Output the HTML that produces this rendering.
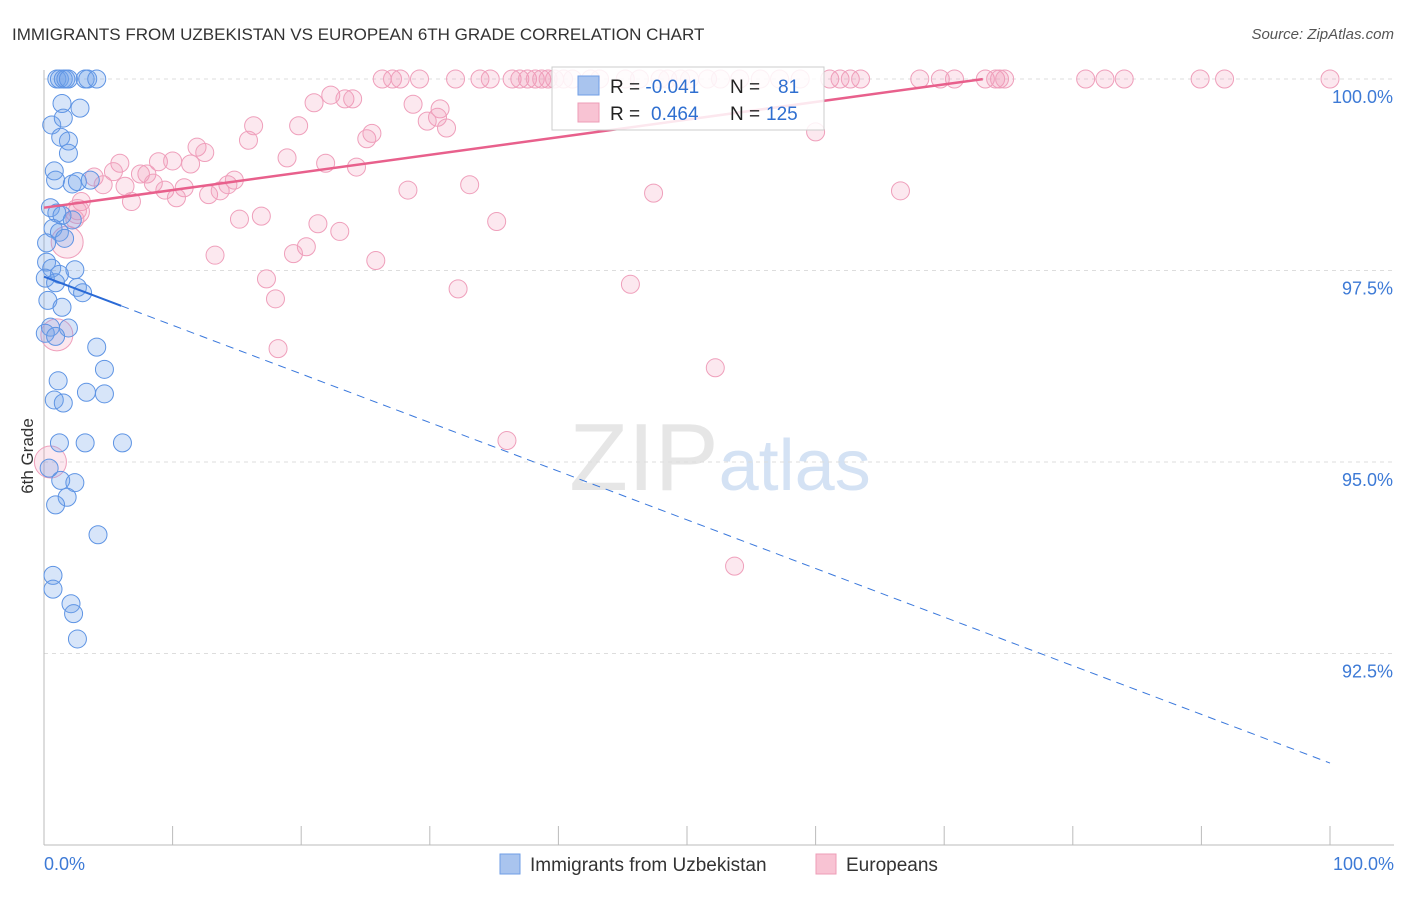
<!DOCTYPE html>
<html><head><meta charset="utf-8"><style>
body{margin:0;background:#fff;font-family:"Liberation Sans",sans-serif;}
svg text{font-family:"Liberation Sans",sans-serif;}
</style></head><body>
<svg id="chart" width="1406" height="892" xmlns="http://www.w3.org/2000/svg">
<text x="12" y="40" font-size="17" fill="#333">IMMIGRANTS FROM UZBEKISTAN VS EUROPEAN 6TH GRADE CORRELATION CHART</text>
<text x="1394" y="39" font-size="15" fill="#555" text-anchor="end" font-style="italic">Source: ZipAtlas.com</text>
<text x="720" y="490" font-size="96" text-anchor="middle" fill="#e6e6e6" font-family="Liberation Serif">ZIP<tspan fill="#d4e2f4" font-family="Liberation Sans" font-size="72">atlas</tspan></text>
<text transform="translate(33,456) rotate(-90)" font-size="17" fill="#333" text-anchor="middle">6th Grade</text>
<g id="grid"></g><g id="axes"></g><g id="marks"></g>
<g>
<rect x="552" y="67" width="272" height="63" fill="#fff" fill-opacity="0.85" stroke="#ccc"/>
<rect x="578" y="76" width="21" height="19" fill="#a9c4ee" stroke="#6f9ee6"/>
<rect x="578" y="103" width="21" height="19" fill="#f8c3d3" stroke="#ee9cb7"/>
<text x="610" y="93" font-size="19" fill="#222">R = <tspan fill="#2f6fd0">-0.041</tspan><tspan x="730">N =</tspan><tspan x="778" fill="#2f6fd0">81</tspan></text>
<text x="610" y="120" font-size="19" fill="#222">R = <tspan x="651" fill="#2f6fd0">0.464</tspan><tspan x="730">N =</tspan><tspan x="766" fill="#2f6fd0">125</tspan></text>
</g>
<g>
<rect x="500" y="854" width="20" height="20" fill="#a9c4ee" stroke="#6f9ee6"/>
<text x="530" y="871" font-size="19" fill="#333">Immigrants from Uzbekistan</text>
<rect x="816" y="854" width="20" height="20" fill="#f8c3d3" stroke="#ee9cb7"/>
<text x="846" y="871" font-size="19" fill="#333">Europeans</text>
</g>
</svg>
<script>
const yTicks=[100,97.5,95,92.5];
const yTickLabels=["100.0%","97.5%","95.0%","92.5%"];
const xTickLabels=["0.0%","100.0%"];
const blueX=[1.0,1.2,1.5,1.7,1.9,3.2,3.4,4.1,1.4,0.6,2.8,1.5,1.3,1.9,1.9,0.8,0.9,2.2,2.6,3.6,0.5,1.0,1.4,2.2,0.7,1.2,1.6,0.2,0.2,0.6,2.4,1.2,0.1,0.9,2.6,3.0,0.3,1.4,0.5,1.9,0.1,0.9,4.1,4.7,1.1,0.8,1.5,3.3,4.7,1.2,3.2,6.1,0.4,1.3,2.4,1.8,0.9,4.2,0.7,0.7,2.1,2.3,2.6];
const blueY=[100,100,100,100,100,100,100,100,99.68,99.40,99.62,99.49,99.24,99.19,99.03,98.80,98.68,98.63,98.66,98.68,98.32,98.25,98.22,98.16,98.05,98.0,97.92,97.86,97.61,97.53,97.51,97.45,97.40,97.34,97.28,97.21,97.11,97.02,96.76,96.75,96.68,96.64,96.50,96.21,96.06,95.81,95.77,95.91,95.89,95.25,95.25,95.25,94.92,94.76,94.73,94.54,94.44,94.05,93.52,93.34,93.15,93.02,92.69];
const pinkX=[26.3,27.1,27.7,29.2,32.0,33.9,34.7,36.4,37.0,37.6,38.2,38.7,39.2,39.7,40.4,41.1,42.5,43.2,45.2,46.3,47.9,48.5,49.5,50.2,51.6,52.6,54.1,55.7,57.2,58.8,61.1,61.9,62.7,63.5,68.1,69.7,70.8,73.2,74.0,74.3,74.7,81.0,82.5,84.0,89.9,91.8,100,
22.3,21.0,23.4,24.0,28.7,30.8,30.6,29.8,31.3,19.8,16.3,25.1,25.5,15.9,11.9,12.5,5.9,8.9,10.0,11.4,18.9,21.9,24.3,7.5,8.0,3.9,4.6,5.4,6.3,8.5,9.4,10.9,10.3,12.8,13.7,14.3,14.8,6.8,2.9,2.6,2.4,15.2,16.9,21.3,23.0,20.4,19.4,13.3,25.8,28.3,33.1,35.2,47.4,66.6,60.0,17.3,18.0,32.2,45.6,18.2,52.2,36.0,53.7,0.5,1.0,1.8,2.6];
const pinkY=[100,100,100,100,100,100,100,100,100,100,100,100,100,100,100,100,100,100,100,100,100,100,100,100,100,100,100,100,100,100,100,100,100,100,100,100,100,100,100,100,100,100,100,100,100,100,100,
99.79,99.69,99.74,99.74,99.67,99.61,99.50,99.45,99.36,99.39,99.39,99.22,99.29,99.20,99.11,99.04,98.90,98.92,98.93,98.89,98.97,98.90,98.85,98.76,98.76,98.72,98.62,98.79,98.60,98.64,98.55,98.58,98.45,98.49,98.54,98.62,98.68,98.40,98.40,98.28,98.17,98.17,98.21,98.11,98.01,97.81,97.72,97.70,97.63,98.55,98.62,98.14,98.51,98.54,99.31,97.39,97.13,97.26,97.32,96.48,96.23,95.28,93.64,95.00,96.66,97.87,98.27];
const pinkSize=new Array(pinkX.length).fill(9);pinkSize[pinkSize.length-4]=16;pinkSize[pinkSize.length-3]=16;pinkSize[pinkSize.length-2]=16;pinkSize[pinkSize.length-1]=12;
const blueTrend=[97.42,91.07];
const pinkTrend=[98.32,100.62];
const NS="http://www.w3.org/2000/svg";
const X=v=>44+v*12.86;
const Y=v=>79+(100-v)/2.5*191.5;
function mk(tag,attrs,parent){const e=document.createElementNS(NS,tag);for(const k in attrs)e.setAttribute(k,attrs[k]);parent.appendChild(e);return e;}
const grid=document.getElementById('grid'),axes=document.getElementById('axes'),marks=document.getElementById('marks');
yTicks.forEach((t,i)=>{
 const l=mk('line',{x1:44,x2:1394,y1:Y(t),y2:Y(t),stroke:'#ddd','stroke-dasharray':'4,4'},grid);
 
 
 const tx=mk('text',{x:1393,y:Y(t)+24,'font-size':18,fill:'#3d7ad6','text-anchor':'end'},axes);
 tx.textContent=yTickLabels[i];
 
 
});
const ax=mk('line',{x1:44,x2:1394,y1:845,y2:845,stroke:'#bbb'},axes);


const ay=mk('line',{x1:44,x2:44,y1:70,y2:845,stroke:'#bbb'},axes);


for(let i=0;i<=10;i++){const t=mk('line',{x1:X(i*10),x2:X(i*10),y1:826,y2:845,stroke:'#bbb'},axes);
 
 }
const xl0=mk('text',{x:44,y:870,'font-size':18,fill:'#3d7ad6'},axes);xl0.textContent=xTickLabels[0];


const xl1=mk('text',{x:1394,y:870,'font-size':18,fill:'#3d7ad6','text-anchor':'end'},axes);xl1.textContent=xTickLabels[1];


pinkX.forEach((x,i)=>{const c=mk('circle',{cx:X(x),cy:Y(pinkY[i]),r:pinkSize[i],fill:'rgba(242,150,180,0.22)',stroke:'#ef9fbb','stroke-width':1},marks);
 
 });
blueX.forEach((x,i)=>{const c=mk('circle',{cx:X(x),cy:Y(blueY[i]),r:9,fill:'rgba(110,160,235,0.28)',stroke:'#5e94e4','stroke-width':1},marks);
 
 });
const bv=x=>blueTrend[0]+(blueTrend[1]-blueTrend[0])*x/100;
const b1=mk('line',{x1:X(0),y1:Y(bv(0)),x2:X(6),y2:Y(bv(6)),stroke:'#2a6ad6','stroke-width':2},marks);


const b2=mk('line',{x1:X(6),y1:Y(bv(6)),x2:X(100),y2:Y(bv(100)),stroke:'#3a78dc','stroke-width':1,'stroke-dasharray':'8,6'},marks);


const pv=x=>pinkTrend[0]+(pinkTrend[1]-pinkTrend[0])*x/100;
const p1=mk('line',{x1:X(0),y1:Y(pv(0)),x2:X(73),y2:Y(pv(73)),stroke:'#e8608c','stroke-width':2.5},marks);


</script>
</body></html>
